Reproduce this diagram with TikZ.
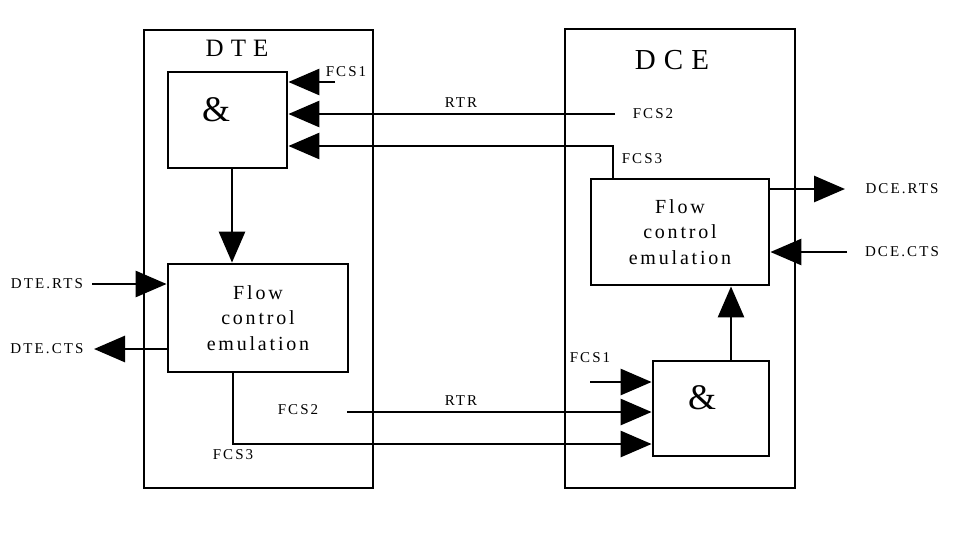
\documentclass[tikz,border=0pt]{standalone}
\usepackage{fontspec}
\setmainfont{Liberation Serif}
\newfontfamily\spaced[LetterSpace=14]{Liberation Serif}
\newfontfamily\spacedbig[LetterSpace=28]{Liberation Serif}
\usetikzlibrary{arrows.meta,positioning}
\tikzset{
  blk/.style={draw, inner sep=0pt},
  sig/.style={font=\spaced\fontsize{15}{17}\selectfont, inner sep=0pt},
  flow/.style={align=center, font=\spaced\fontsize{20}{25.5}\selectfont},
  amp/.style={font=\fontsize{36}{40}\selectfont, inner sep=0pt},
  arr/.style={-{Triangle[length=31pt,width=26pt]}}
}

\begin{document}
\begin{tikzpicture}[x=1pt, y=-1pt, line width=2.8pt]
  \useasboundingbox (0,0) rectangle (968,539);
  \node[blk, minimum width=229, minimum height=458] (dte) at (258.5,259) {};
  \node[font=\spacedbig\fontsize{25}{30}\selectfont] (dtename) at (237,48) {DTE};
  \node[blk, minimum width=230, minimum height=459] (dce) at (680,258.5) {};
  \node[font=\spacedbig\fontsize{29}{34}\selectfont] (dcename) at (672,60) {DCE};

  \node[blk, minimum width=119, minimum height=96] (dteand) at (227.5,120) {};
  \node[amp] (dteamp) at (216,110) {\&};
  \node[blk, flow, minimum width=180, minimum height=108] (dteflow) at (258,318) {Flow\\control\\emulation};
  \node[blk, flow, minimum width=178, minimum height=106] (dceflow) at (680,232) {Flow\\control\\emulation};
  \node[blk, minimum width=116, minimum height=95] (dceand) at (711,408.5) {};
  \node[amp] (dceamp) at (702,398) {\&};

  \node[sig] (fcsonea) at (346,72) {FCS1};
  \node[sig] (rtra) at (461,103) {RTR};
  \node[sig] (fcstwoa) at (653,114) {FCS2};
  \node[sig] (fcsthreea) at (642,159) {FCS3};
  \node[sig] (dterts) at (47,284) {DTE.RTS};
  \node[sig] (dtects) at (47,349) {DTE.CTS};
  \node[sig] (dcerts) at (902,189) {DCE.RTS};
  \node[sig] (dcects) at (902,252) {DCE.CTS};
  \node[sig] (fcsoneb) at (590,358) {FCS1};
  \node[sig] (fcstwob) at (298,410) {FCS2};
  \node[sig] (rtrb) at (461,401) {RTR};
  \node[sig] (fcsthreeb) at (233,455) {FCS3};

  \coordinate (ina) at (335,82);
  \coordinate (inb) at (615,114);
  \coordinate (inc) at (613,146);
  \coordinate (dtedown) at (232,0);
  \coordinate (dteinrts) at (92,284);
  \coordinate (dteoutcts) at (94,349);
  \coordinate (dceoutrts) at (845,189);
  \coordinate (dceincts) at (847,252);
  \coordinate (dceup) at (731,0);
  \coordinate (ind) at (590,382);
  \coordinate (ine) at (347,412);
  \coordinate (inf) at (233,444);

  \draw[arr] (ina) -- (ina -| dteand.east);
  \draw[arr] (inb) -- (inb -| dteand.east);
  \draw[arr] (inc |- dceflow.north) -- (inc) -- (inc -| dteand.east);
  \draw[arr] (dtedown |- dteand.south) -- (dtedown |- dteflow.north);
  \draw[arr] (dteinrts) -- (dteinrts -| dteflow.west);
  \draw[arr] (dteoutcts -| dteflow.west) -- (dteoutcts);
  \draw[arr] (dceoutrts -| dceflow.east) -- (dceoutrts);
  \draw[arr] (dceincts) -- (dceincts -| dceflow.east);
  \draw[arr] (dceup |- dceand.north) -- (dceup |- dceflow.south);
  \draw[arr] (ind) -- (ind -| dceand.west);
  \draw[arr] (ine) -- (ine -| dceand.west);
  \draw[arr] (inf |- dteflow.south) -- (inf) -- (inf -| dceand.west);
\end{tikzpicture}
\end{document}
